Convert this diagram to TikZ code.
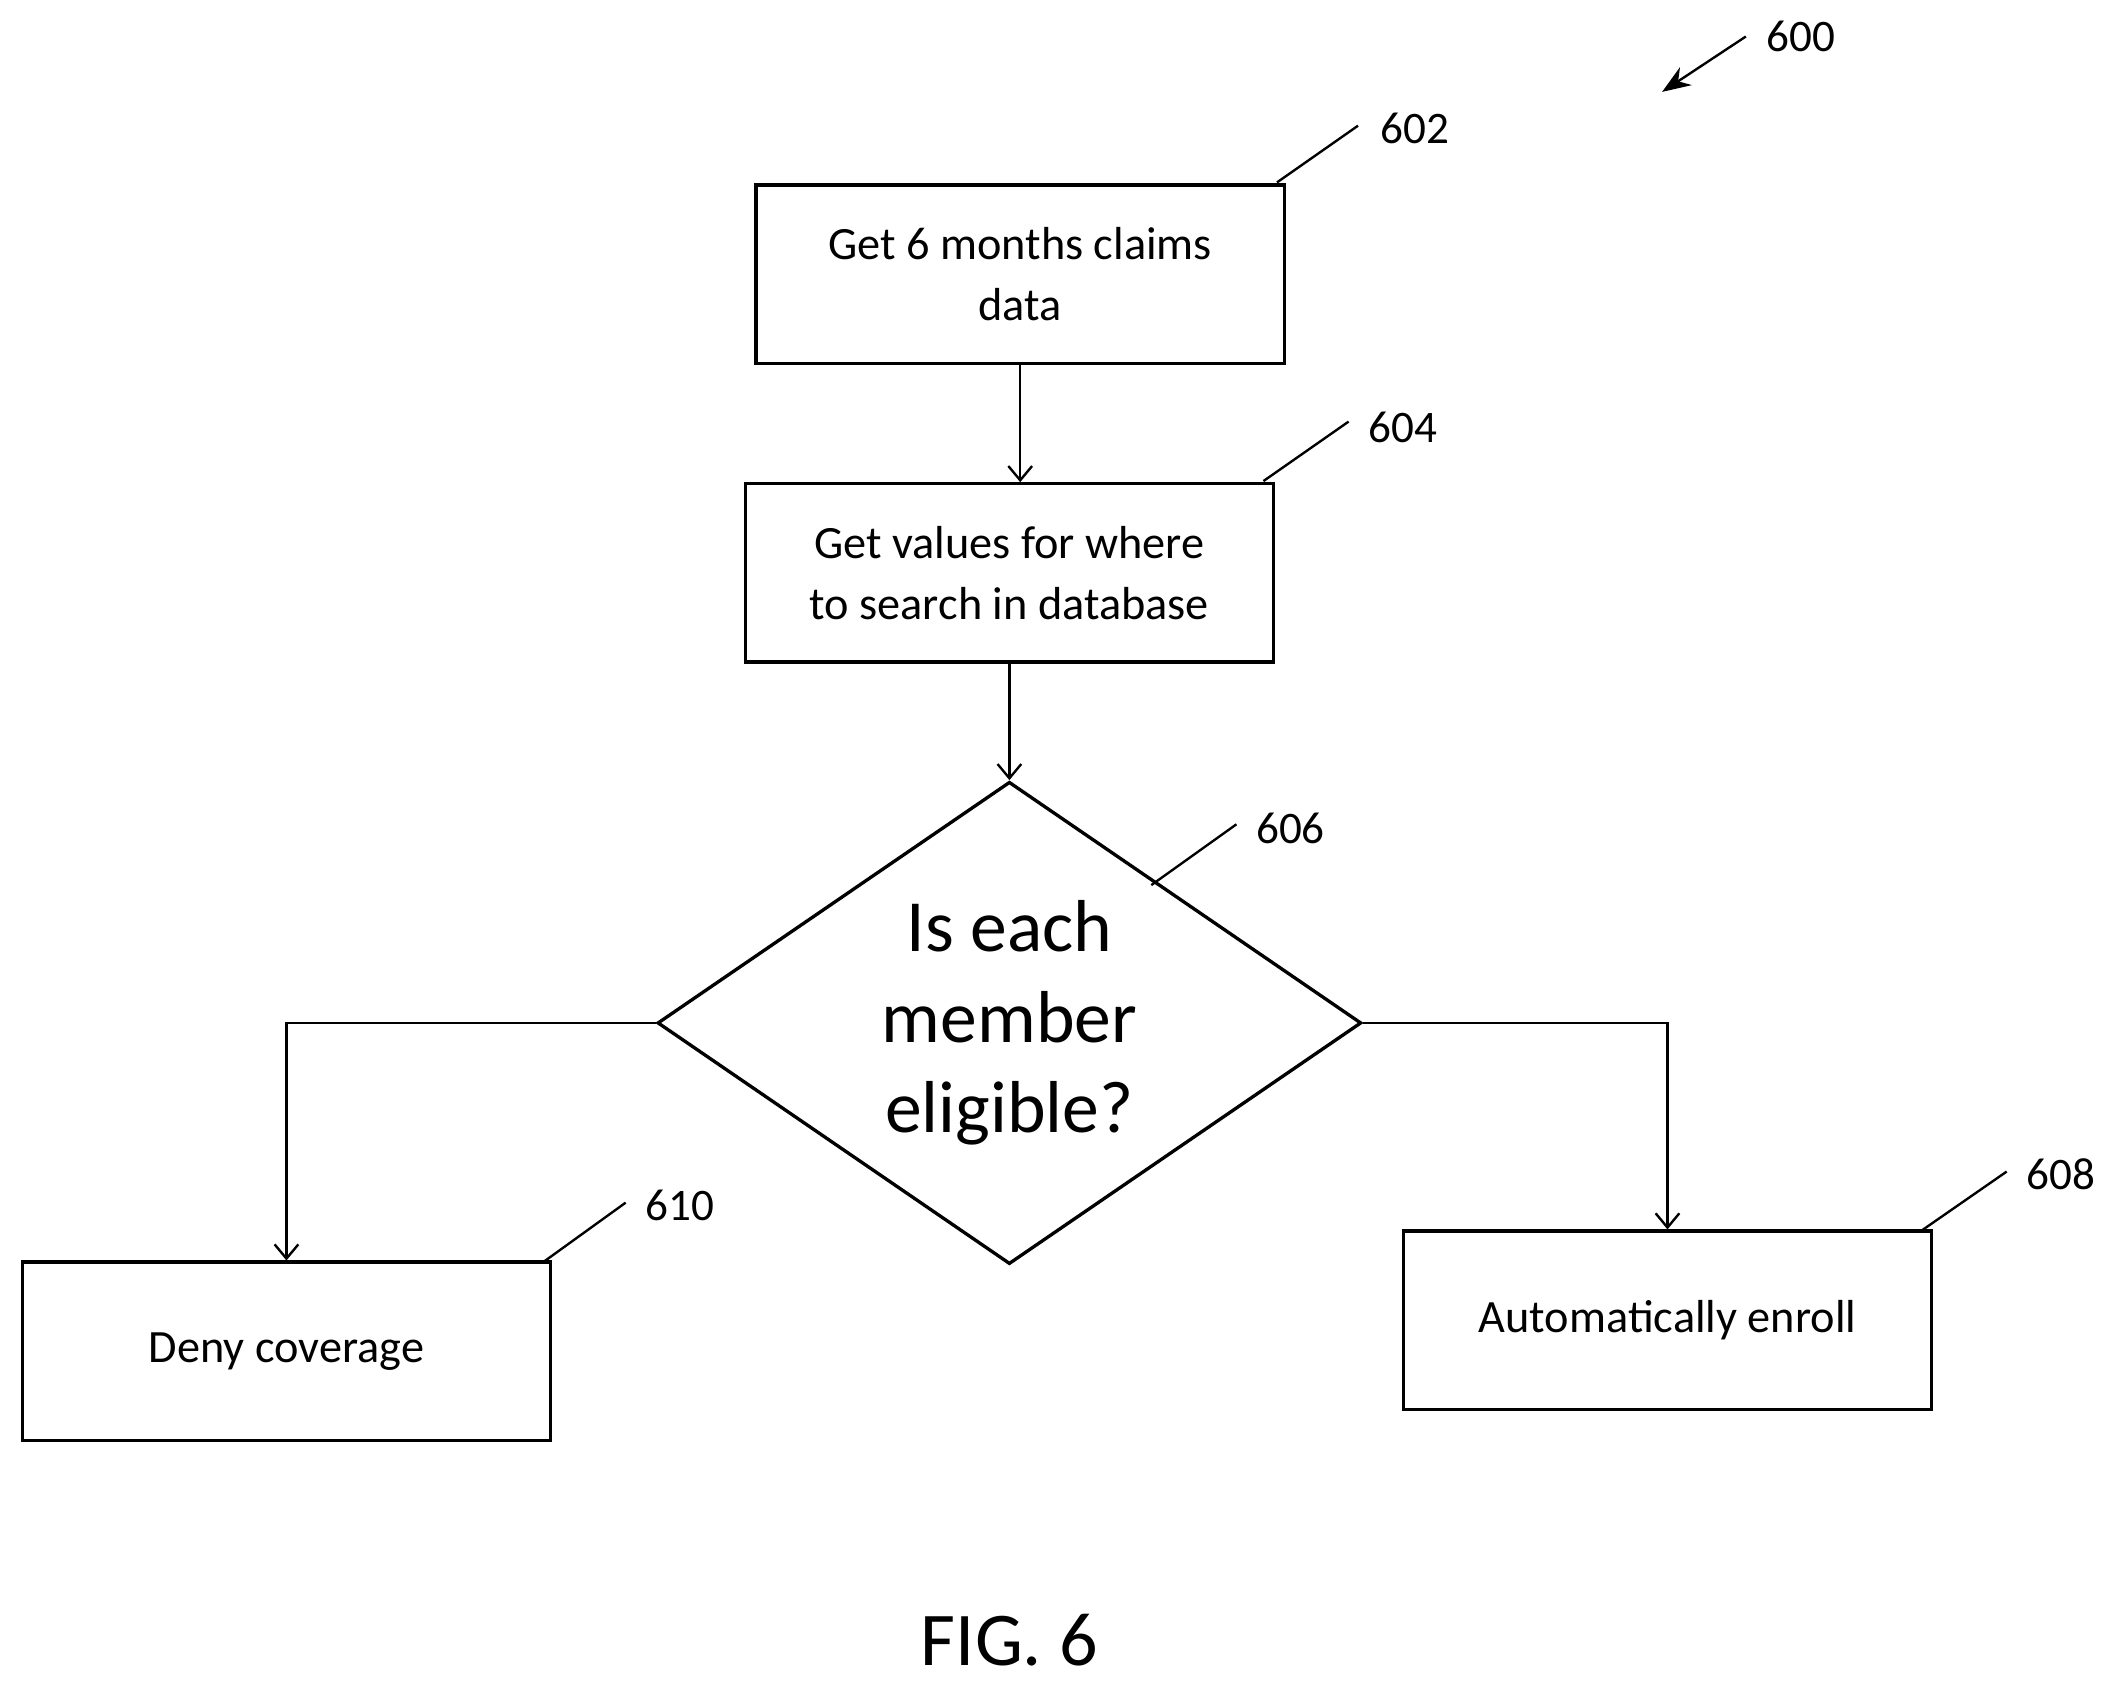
\documentclass[tikz,border=0pt]{standalone}
\usepackage{fontspec}
\setmainfont{Carlito}
\usetikzlibrary{arrows.meta,shapes.geometric}
\tikzset{
  box/.style={draw,line width=1.4pt,minimum width=7.82cm,minimum height=2.64cm,
    align=center,font=\fontsize{19.5}{25.5}\selectfont,inner sep=0pt},
  lbl/.style={font=\fontsize{19}{22}\selectfont},
  lead/.style={line width=1pt},
  flow/.style={->,line width=1pt}
}
\begin{document}
\begin{tikzpicture}[>={Straight Barb[length=6pt,width=10pt]},x=0.02cm,y=-0.02cm]
  \useasboundingbox (0,0) rectangle (1560,1249);
  \node[box] (get) at (755,203) {Get 6 months claims\\data};
  \node[box] (vals) at (747,424) {Get values for where\\to search in database};
  \node[draw,diamond,line width=1.4pt,minimum width=10.42cm,minimum height=7.14cm,
    aspect=1.46,inner sep=0pt,align=center,font=\fontsize{31}{38}\selectfont]
    (elig) at (747,757) {Is each\\member\\eligible?};
  \node[box] (deny) at (212,1000) {Deny coverage};
  \node[box] (enroll) at (1234,977) {Automatically enroll};
  \draw[flow] (get.south) -- (get.south |- vals.north);
  \draw[flow] (vals.south) -- (elig.north);
  \draw[flow] (elig.west) -| (deny.north);
  \draw[flow] (elig.east) -| (enroll.north);
  % reference numerals
  \node[lbl] (n602) at (1047,95) {602};
  \draw[lead] (945,135) -- (1005,93);
  \node[lbl] (n604) at (1038,316) {604};
  \draw[lead] (935,356) -- (998,312);
  \node[lbl] (n606) at (955,613) {606};
  \draw[lead] (852,655) -- (915,610);
  \node[lbl] (n610) at (503,892) {610};
  \draw[lead] (402,934) -- (463,890);
  \node[lbl] (n608) at (1525,869) {608};
  \draw[lead] (1423,910) -- (1485,867);
  \node[lbl] (n600) at (1333,27) {600};
  \draw[-{Stealth[length=12pt,width=9pt]},lead] (1292,27) -- (1230,68);
  \node[font=\fontsize{32}{38}\selectfont] (fig) at (747,1214) {FIG. 6};
\end{tikzpicture}
\end{document}
